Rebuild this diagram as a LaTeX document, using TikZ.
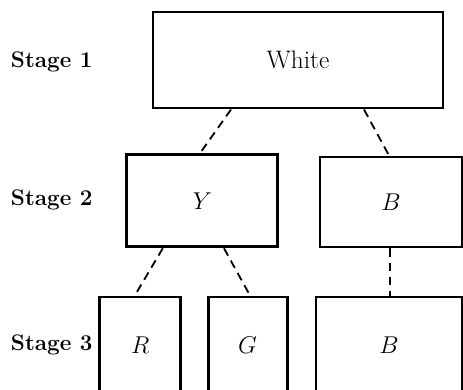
\documentclass[tikz,border=0pt]{standalone}
\usepackage{fontspec}
\usepackage{tikz}
\usetikzlibrary{calc}

\begin{document}
\begin{tikzpicture}[
  font=\fontsize{18}{21}\selectfont,
  box/.style={draw, line width=2.1pt, inner sep=0pt},
  stage/.style={anchor=west, font=\fontsize{16}{19}\selectfont\bfseries},
  link/.style={dashed, line width=1.3pt, dash pattern=on 6pt off 4pt},
]
\clip (0,0) rectangle (11.575,-9.725);

%% ---------- stage labels ----------
\node[stage] (s1) at (0.15,-1.55) {Stage 1};
\node[stage] (s2) at (0.15,-5.0) {Stage 2};
\node[stage] (s3) at (0.15,-8.625) {Stage 3};

%% ---------- boxes ----------
\node[box, minimum width=7.25cm, minimum height=2.4cm] (white) at (7.45,-1.5) {White};
\node[box, minimum width=3.775cm, minimum height=2.3cm] (y) at (5.06,-5.02) {$Y$};
\node[box, minimum width=3.55cm, minimum height=2.25cm] (b2) at (9.775,-5.05) {$B$};
\node[box, minimum width=2.025cm, minimum height=2.4cm] (r) at (3.51,-8.625) {$R$};
\node[box, minimum width=1.975cm, minimum height=2.4cm] (g) at (6.19,-8.625) {$G$};
\node[box, minimum width=3.65cm, minimum height=2.4cm] (b3) at (9.725,-8.625) {$B$};

%% ---------- links ----------
\draw[link] ([xshift=-1.675cm]white.south) -- ([xshift=-0.06cm]y.north);
\draw[link] ([xshift=1.65cm]white.south) -- ([xshift=-0.05cm]b2.north);
\draw[link] ([xshift=-0.99cm]y.south) -- ([xshift=-0.14cm]r.north);
\draw[link] ([xshift=0.54cm]y.south) -- ([xshift=0.06cm]g.north);
\draw[link] ([xshift=-0.03cm]b2.south) -- ([xshift=-0.03cm]b2.south |- b3.north);
\end{tikzpicture}
\end{document}
